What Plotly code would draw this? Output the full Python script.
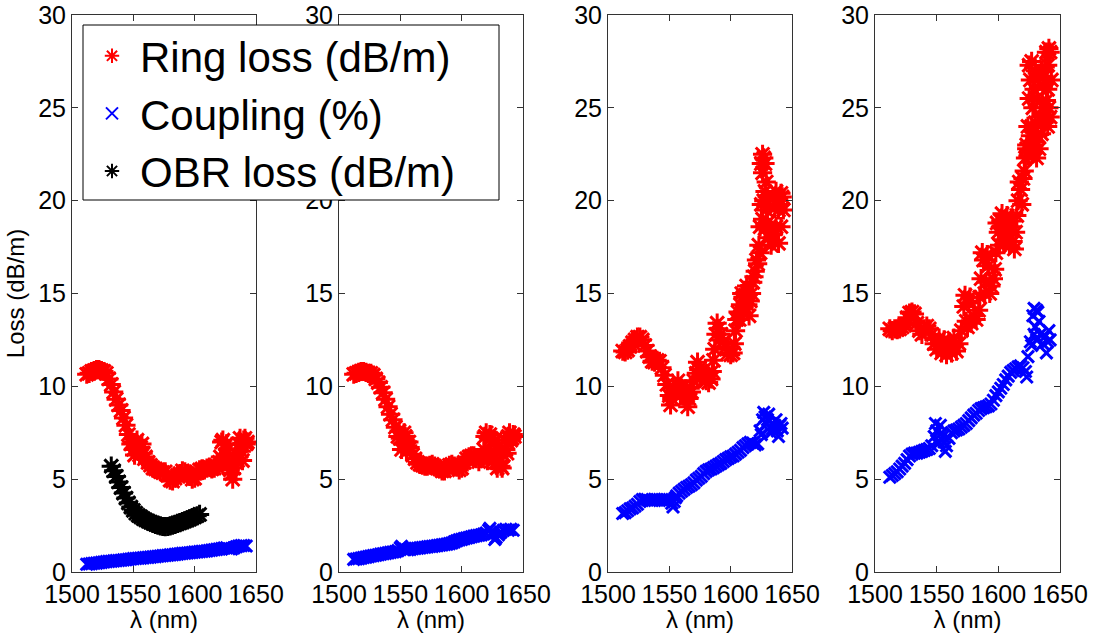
import plotly.graph_objects as go

# ---------------- data ----------------
WL = list(range(1512, 1644, 2))          # sampling grid, nm
OBR_WL = list(range(1532, 1606, 2))

RING_1 = [10.65,10.7,10.8,10.85,10.9,10.9,10.85,10.8,10.7,10.4,10.1,
          9.7,9.3,9.0,8.7,8.3,7.9,7.4,6.9,6.6,6.8,6.5,
          6.7,6.4,6.2,5.9,5.75,5.6,5.55,5.5,5.4,5.35,5.4,
          5.2,4.95,4.9,5.05,5.2,5.3,5.45,5.4,5.3,5.15,5.0,
          5.05,5.35,5.5,5.55,5.5,5.6,5.65,5.55,5.6,5.7,5.9,
          7.0,6.0,6.9,5.9,5.3,5.6,6.4,6.9,6.5,7.1,6.9]
RING_1_EXTRA = [(1549,7.0),(1551,6.3),(1553,7.1),(1555,6.3),(1557,6.9),(1559,6.1),
                (1621,6.2),(1623,7.1),(1625,6.3),(1627,6.6),(1629,5.5),(1631,5.0),
                (1633,6.0),(1635,6.0),(1637,7.2),(1639,6.0),(1641,7.2),(1643,7.0)]
COUP_1 = [0.42,0.43,0.45,0.47,0.48,0.5,0.52,0.54,0.56,0.57,0.58,
          0.6,0.61,0.62,0.63,0.65,0.66,0.68,0.7,0.72,0.73,0.74,
          0.75,0.76,0.78,0.79,0.8,0.82,0.83,0.85,0.86,0.88,0.89,
          0.9,0.92,0.93,0.95,0.96,0.98,1.0,1.01,1.02,1.04,1.05,
          1.07,1.08,1.1,1.11,1.12,1.14,1.16,1.18,1.2,1.22,1.24,
          1.26,1.29,1.3,1.25,1.24,1.3,1.36,1.4,1.42,1.43,1.4]
COUP_1_EXTRA = []
OBR_1 = [5.7,5.45,5.15,4.85,4.55,4.25,3.98,3.72,3.5,3.32,3.17,3.05,2.97,
         2.88,2.8,2.74,2.68,2.62,2.57,2.52,2.48,2.45,2.44,2.45,2.48,2.52,
         2.57,2.62,2.66,2.71,2.76,2.81,2.86,2.92,2.97,3.03,3.1]

RING_2 = [10.65,10.7,10.75,10.8,10.8,10.75,10.7,10.7,10.6,10.4,10.2,
          9.95,9.65,9.3,8.9,8.5,8.2,7.8,7.3,7.2,6.9,7.3,
          6.8,6.7,6.3,6.1,5.9,5.8,5.75,5.7,5.7,5.75,5.8,
          5.7,5.6,5.55,5.45,5.45,5.6,5.75,5.8,5.7,5.65,5.5,
          5.6,5.9,6.1,6.2,6.25,6.25,6.1,5.95,6.1,6.6,7.5,
          6.2,7.2,6.4,5.9,6.8,5.7,6.3,6.6,7.3,7.1,7.4]
RING_2_EXTRA = [(1549,7.6),(1551,6.6),(1553,7.5),(1555,6.5),(1557,7.0),
                (1619,7.3),(1621,6.0),(1623,7.4),(1625,6.0),(1627,7.1),(1629,5.6),
                (1631,6.5),(1633,5.6),(1635,7.1),(1637,6.4),(1639,7.5),(1641,7.2),(1643,7.3)]
COUP_2 = [0.68,0.7,0.72,0.75,0.78,0.8,0.83,0.86,0.88,0.9,0.93,
          0.96,0.98,1.0,1.03,1.06,1.08,1.1,1.15,1.3,1.28,1.22,
          1.2,1.22,1.25,1.27,1.28,1.3,1.32,1.33,1.35,1.37,1.38,
          1.4,1.42,1.44,1.46,1.48,1.5,1.53,1.56,1.62,1.68,1.73,
          1.76,1.8,1.83,1.86,1.9,1.93,1.96,1.98,2.0,2.05,2.1,
          2.25,2.05,2.15,1.85,2.0,2.15,2.25,2.3,2.25,2.3,2.25]
COUP_2_EXTRA = [(1551,1.38),(1553,1.2),(1623,2.35),(1627,1.75),(1631,2.1)]

RING_3 = [11.9,11.85,11.95,12.15,12.35,12.5,12.65,12.65,12.5,12.2,11.9,
          11.6,11.35,11.3,11.4,11.35,11.0,10.6,10.1,9.5,9.35,9.6,
          9.8,9.95,9.9,9.8,9.4,9.35,9.7,10.3,10.7,10.9,10.8,
          10.6,10.3,10.2,10.4,11.4,12.8,13.1,12.8,12.4,12.1,11.8,
          11.7,11.8,13.0,14.0,14.4,14.8,14.9,14.4,14.6,15.6,16.2,
          16.6,18.6,21.5,20.5,18.8,18.3,18.4,19.6,20.1,19.8,20.2]
RING_3_EXTRA = [(1551,9.0),(1553,9.9),(1557,10.3),(1559,9.5),(1565,8.9),(1567,9.9),
                (1573,11.3),(1575,10.5),(1585,10.8),(1587,12.0),(1589,13.4),(1591,12.5),
                (1603,12.3),(1605,13.6),(1607,13.6),(1609,15.0),(1611,14.3),(1613,15.4),
                (1615,13.8),(1617,15.0),(1619,15.9),(1621,16.8),(1623,17.6),(1624,17.2),
                (1625,19.8),(1625,22.0),(1626,19.0),(1626,22.5),(1627,20.0),(1627,22.3),
                (1628,18.5),(1628,22.0),(1629,19.5),(1629,21.0),(1630,20.0),(1631,18.0),
                (1633,17.6),(1635,18.2),(1635,20.2),(1637,18.6),(1637,20.5),(1639,17.7),
                (1639,19.5),(1641,18.6),(1641,20.4),(1643,19.5)]
COUP_3 = [3.15,3.2,3.3,3.4,3.45,3.55,3.65,3.8,3.9,3.92,3.9,
          3.85,3.85,3.85,3.88,3.9,3.9,3.92,3.9,3.85,3.7,3.8,
          4.1,4.25,4.35,4.45,4.55,4.62,4.7,4.8,4.95,5.05,5.15,
          5.3,5.42,5.5,5.55,5.62,5.7,5.78,5.85,5.95,6.05,6.12,
          6.2,6.25,6.35,6.45,6.55,6.7,6.8,6.9,6.98,6.95,6.85,
          6.9,7.6,8.2,8.35,8.2,7.8,7.7,7.9,7.6,7.9,7.75]
COUP_3_EXTRA = [(1553,3.5),(1555,4.0),(1625,7.4),(1627,8.6),(1629,8.0),(1631,8.5),
                (1633,7.5),(1637,8.2),(1639,7.3),(1641,8.0)]

RING_4 = [13.1,13.0,13.1,13.05,13.1,13.2,13.3,13.7,13.95,14.0,13.9,
          13.4,13.0,12.8,13.1,13.25,13.1,12.8,12.3,12.0,12.6,11.8,
          12.5,11.7,12.4,11.8,12.6,11.9,12.3,13.0,14.3,13.5,14.5,
          13.4,13.8,13.6,14.1,15.8,16.8,15.6,16.5,15.4,15.8,17.2,
          18.3,18.9,18.6,18.9,18.2,18.6,17.8,18.3,20.0,20.6,21.2,
          22.3,24.0,26.5,25.0,27.0,23.5,24.5,25.0,27.2,26.0,28.0]
RING_4_EXTRA = [(1573,14.9),(1575,13.2),(1577,14.8),(1585,14.8),(1587,17.2),(1589,15.0),
                (1591,17.1),(1593,15.0),(1597,16.3),(1599,18.8),(1601,17.6),(1603,19.3),
                (1605,17.9),(1607,19.2),(1609,17.6),(1611,18.9),(1613,17.4),(1615,19.2),
                (1617,21.0),(1619,19.8),(1621,21.6),(1623,22.8),(1623,23.0),(1624,22.4),
                (1625,25.5),(1625,27.3),(1626,23.5),(1627,24.0),(1627,27.5),(1628,22.6),
                (1629,26.0),(1629,23.0),(1630,24.2),(1631,25.5),(1631,22.3),(1632,26.5),
                (1633,22.8),(1635,23.6),(1635,27.0),(1636,26.2),(1637,24.2),(1637,26.7),
                (1638,24.5),(1639,28.0),(1639,25.4),(1640,24.0),(1640,27.3),(1641,25.0),
                (1641,28.2),(1642,24.5),(1643,26.5)]
COUP_4 = [5.1,5.2,5.3,5.4,5.55,5.7,5.85,6.05,6.25,6.35,6.4,
          6.4,6.45,6.5,6.55,6.6,6.65,6.8,7.3,7.6,7.0,7.5,
          7.0,6.8,7.2,7.5,7.6,7.65,7.7,7.8,7.9,8.0,8.15,
          8.3,8.45,8.55,8.7,8.8,8.85,8.9,8.95,9.05,9.25,9.5,
          9.7,9.9,10.1,10.35,10.55,10.75,10.85,10.95,11.05,11.1,11.0,
          10.8,11.6,12.4,13.8,13.2,14.0,12.8,12.3,12.7,12.4,12.5]
COUP_4_EXTRA = [(1549,8.0),(1551,6.9),(1553,7.9),(1555,7.3),(1557,6.5),(1623,10.5),
                (1627,12.2),(1629,14.2),(1629,12.8),(1631,14.1),(1631,12.5),(1633,13.5),
                (1639,11.8),(1641,13.0)]

X_TICKS = [1500, 1550, 1600, 1650]
Y_TICKS = [0, 5, 10, 15, 20, 25, 30]
Y_LABELS = ["0", "5", "10", "15", "20", "25", "30"]
Y_LABELS_HIDDEN = ["0", "5", "10", "15", "20", "", "30"]   # panel 2: "25" sits behind the legend box
NAMES = ["Ring loss (dB/m)", "Coupling (%)", "OBR loss (dB/m)"]

# ---------------- figure ----------------
W, H = 1094, 633
FONT = "Liberation Sans, Arial, sans-serif"
RED, BLUE, BLACK = "#ff0000", "#0000ff", "#000000"

panels = [
    (RING_1, RING_1_EXTRA, COUP_1, COUP_1_EXTRA),
    (RING_2, RING_2_EXTRA, COUP_2, COUP_2_EXTRA),
    (RING_3, RING_3_EXTRA, COUP_3, COUP_3_EXTRA),
    (RING_4, RING_4_EXTRA, COUP_4, COUP_4_EXTRA),
]
x_px = [(72, 256), (339, 523), (608, 792), (875, 1060)]


def merge(base, extra):
    xs = list(WL) + [p[0] for p in extra]
    ys = list(base) + [p[1] for p in extra]
    return xs, ys


fig = go.Figure()
for i, (ring, ring_x, coup, coup_x) in enumerate(panels):
    ax = "" if i == 0 else str(i + 1)
    rx, ry = merge(ring, ring_x)
    cx, cy = merge(coup, coup_x)
    fig.add_trace(go.Scatter(
        x=rx, y=ry, mode="markers", name=NAMES[0], showlegend=(i == 0),
        xaxis="x" + ax, yaxis="y" + ax,
        marker=dict(symbol="asterisk-open", size=16, color=RED,
                    line=dict(color=RED, width=3))))
    fig.add_trace(go.Scatter(
        x=cx, y=cy, mode="markers", name=NAMES[1], showlegend=(i == 0),
        xaxis="x" + ax, yaxis="y" + ax,
        marker=dict(symbol="x-thin-open", size=12, color=BLUE,
                    line=dict(color=BLUE, width=3))))
    if i == 0:
        fig.add_trace(go.Scatter(
            x=OBR_WL, y=OBR_1, mode="markers", name=NAMES[2],
            xaxis="x", yaxis="y",
            marker=dict(symbol="asterisk-open", size=16, color=BLACK,
                        line=dict(color=BLACK, width=3))))

axis_common = dict(showline=True, linecolor="#333333", linewidth=1, mirror="ticks",
                   ticks="inside", ticklen=6, tickcolor="#333333", showgrid=False,
                   zeroline=False, automargin=False,
                   tickfont=dict(family=FONT, size=25, color="#000"))

layout = dict(width=W, height=H, margin=dict(l=0, r=0, t=15, b=61, autoexpand=False),
              paper_bgcolor="white", plot_bgcolor="white",
              font=dict(family=FONT, color="#000"))
for i, (a, b) in enumerate(x_px):
    ax = "" if i == 0 else str(i + 1)
    layout["xaxis" + ax] = dict(axis_common, domain=[a / W, b / W], range=[1500, 1650],
                                tickvals=X_TICKS, anchor="y" + ax,
                                title=dict(text="λ (nm)", font=dict(size=24), standoff=4))
    ydict = dict(axis_common, domain=[0, 1], range=[0, 30], tickvals=Y_TICKS,
                 ticktext=(Y_LABELS_HIDDEN if i == 1 else Y_LABELS), anchor="x" + ax)
    if i == 0:
        ydict["title"] = dict(text="Loss (dB/m)", font=dict(size=24), standoff=6)
    layout["yaxis" + ax] = ydict

plot_h = H - 15 - 61
layout["shapes"] = [dict(type="rect", xref="paper", yref="paper",
                         x0=83 / W, x1=499 / W,
                         y0=1 - (200 - 15) / plot_h, y1=1 - (25 - 15) / plot_h,
                         line=dict(color="#000", width=1), fillcolor="white",
                         layer="above")]
layout["legend"] = dict(x=84 / W, y=1 - (22 - 15) / plot_h, xanchor="left", yanchor="top",
                        bgcolor="rgba(0,0,0,0)", borderwidth=0,
                        font=dict(family=FONT, size=42, color="#000"),
                        itemwidth=46, itemsizing="constant")
fig.update_layout(**layout)
fig.write_html("out.html")
